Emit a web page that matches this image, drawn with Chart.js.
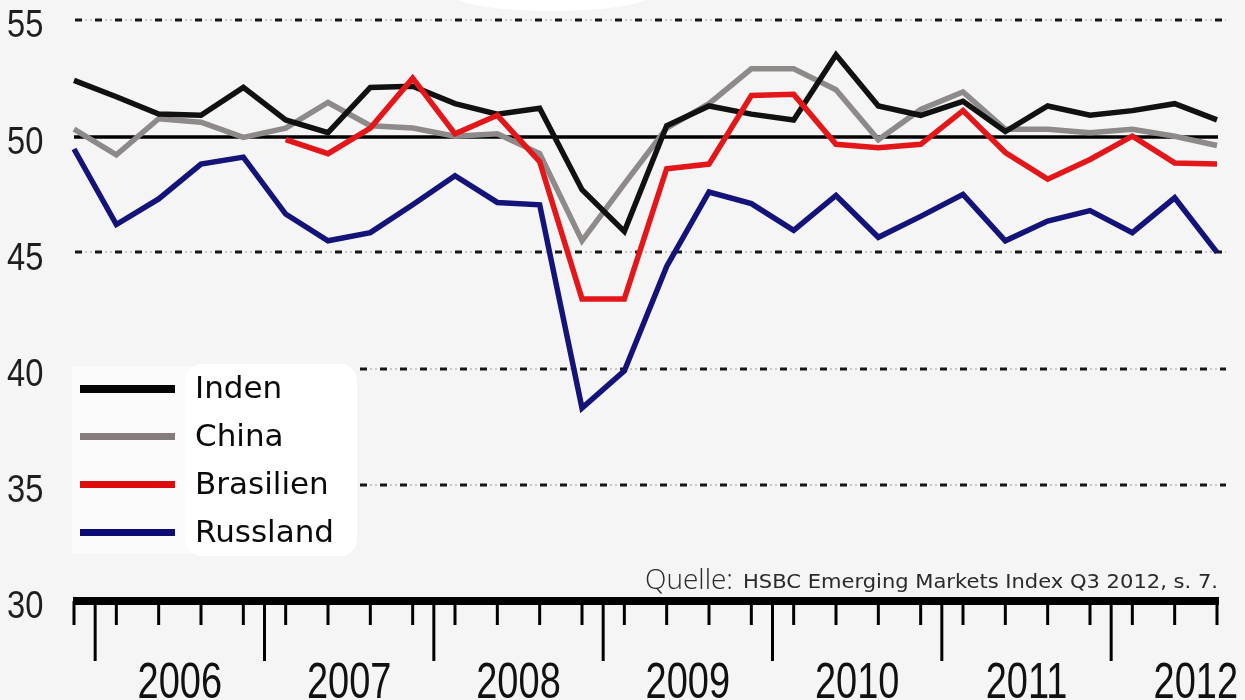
<!DOCTYPE html>
<html>
<head>
<meta charset="utf-8">
<script src="https://cdn.jsdelivr.net/npm/chart.js@4.4.1/dist/chart.umd.min.js"></script>
<style>
  html, body { margin: 0; padding: 0; background: #f5f5f5; }
  #wrap { width: 1245px; height: 700px; }
</style>
</head>
<body>
<div id="wrap"><canvas id="pmi" width="1245" height="700"></canvas></div>
<script>
// Quarterly PMI, 2005 Q4 .. 2012 Q3
const quarters = [
  '2005 Q4',
  '2006 Q1', '2006 Q2', '2006 Q3', '2006 Q4',
  '2007 Q1', '2007 Q2', '2007 Q3', '2007 Q4',
  '2008 Q1', '2008 Q2', '2008 Q3', '2008 Q4',
  '2009 Q1', '2009 Q2', '2009 Q3', '2009 Q4',
  '2010 Q1', '2010 Q2', '2010 Q3', '2010 Q4',
  '2011 Q1', '2011 Q2', '2011 Q3', '2011 Q4',
  '2012 Q1', '2012 Q2', '2012 Q3',
];
const years = ['2006', '2007', '2008', '2009', '2010', '2011', '2012'];
const yTicks = [30, 35, 40, 45, 50, 55];

const inden = [52.4, 51.7, 50.95, 50.9, 52.1, 50.7, 50.15, 52.1, 52.15, 51.4, 50.95, 51.2,
  47.7, 45.9, 50.45, 51.3, 50.95, 50.7, 53.5, 51.3, 50.9, 51.5, 50.2, 51.3, 50.9, 51.1, 51.4, 50.7];
const china = [50.3, 49.2, 50.75, 50.6, 49.95, 50.35, 51.45, 50.45, 50.35, 50.0, 50.1, 49.25,
  45.5, 47.95, 50.35, 51.4, 52.9, 52.9, 52.0, 49.85, 51.15, 51.9, 50.3, 50.3, 50.15, 50.3, 50.0, 49.6];
const brasilien = [null, null, null, null, null, 49.85, 49.25, 50.35, 52.5, 50.1, 50.9, 48.9,
  43.0, 43.0, 48.6, 48.8, 51.75, 51.8, 49.65, 49.5, 49.65, 51.1, 49.3, 48.15, 49.0, 50.0, 48.85, 48.8];
const russland = [49.45, 46.2, 47.3, 48.8, 49.1, 46.65, 45.5, 45.85, 47.05, 48.3, 47.15, 47.05,
  38.3, 39.9, 44.4, 47.6, 47.1, 45.95, 47.45, 45.65, 46.55, 47.5, 45.5, 46.35, 46.8, 45.85, 47.35, 45.0];

const SERIES = [
  { label: 'Inden',     data: inden,     color: '#111111', legend: '#050505', order: 2 },
  { label: 'China',     data: china,     color: '#8e8a89', legend: '#857d7b', order: 3 },
  { label: 'Brasilien', data: brasilien, color: '#e3161a', legend: '#dd0d0d', order: 1 },
  { label: 'Russland',  data: russland,  color: '#13137a', legend: '#0c0c72', order: 0 },
];

const SOURCE_LEAD = 'Quelle:';
const SOURCE_TEXT = 'HSBC Emerging Markets Index Q3 2012, s. 7.';

// condensed text helper (the original uses a narrow face)
function narrowText(ctx, text, x, y, sx, align) {
  ctx.save();
  ctx.translate(x, y);
  ctx.scale(sx, 1);
  ctx.textAlign = align;
  ctx.fillText(text, 0, 0);
  ctx.restore();
}

const decor = {
  id: 'decor',
  beforeDatasetsDraw(chart) {
    const { ctx, scales: { x, y } } = chart;
    const left = x.getPixelForValue(0);
    const right = x.getPixelForValue(quarters.length - 1);

    // white smudge at the top
    ctx.save();
    ctx.fillStyle = '#ffffff';
    ctx.beginPath();
    ctx.ellipse(552, -4, 96, 15, 0, 0, Math.PI * 2);
    ctx.fill();
    ctx.restore();

    // legend backdrop (behind the labels only)
    ctx.save();
    ctx.fillStyle = '#fbfbfb';
    ctx.fillRect(72, 366, 120, 188);
    ctx.fillStyle = '#ffffff';
    ctx.beginPath();
    ctx.roundRect(186, 364, 171, 192, 16);
    ctx.fill();
    ctx.restore();

    // grid lines
    yTicks.forEach(v => {
      const py = Math.round(y.getPixelForValue(v));
      if (v === 30) return;
      ctx.save();
      if (v === 50) {
        ctx.strokeStyle = '#000';
        ctx.lineWidth = 3.5;
        ctx.beginPath();
        ctx.moveTo(left, py + 1);
        ctx.lineTo(right + 1, py + 1);
        ctx.stroke();
      } else {
        const x0 = v <= 40 ? 360 : left + 1;
        ctx.strokeStyle = '#b9b9b9';
        ctx.lineWidth = 1.5;
        ctx.setLineDash([2, 3]);
        ctx.beginPath();
        ctx.moveTo(x0, py);
        ctx.lineTo(right + 9, py);
        ctx.stroke();
        ctx.strokeStyle = '#161616';
        ctx.lineWidth = 3;
        ctx.setLineDash([7, 13]);
        ctx.beginPath();
        ctx.moveTo(x0, py);
        ctx.lineTo(right + 9, py);
        ctx.stroke();
      }
      ctx.restore();
    });

    // y tick labels
    ctx.save();
    ctx.fillStyle = '#1e1e1e';
    ctx.font = "38px 'Liberation Sans', Arial, sans-serif";
    ctx.textBaseline = 'middle';
    yTicks.forEach(v => {
      narrowText(ctx, String(v), 7, y.getPixelForValue(v) + 7, 0.86, 'left');
    });
    ctx.restore();
  },
  afterDatasetsDraw(chart) {
    const { ctx, scales: { x, y } } = chart;
    const left = x.getPixelForValue(0);
    const right = x.getPixelForValue(quarters.length - 1);
    const axisY = y.getPixelForValue(30);

    // x axis bar
    ctx.save();
    ctx.fillStyle = '#000';
    ctx.fillRect(left - 1, axisY - 4, right - left + 3, 8);

    // quarter ticks and year boundary ticks
    ctx.strokeStyle = '#000';
    ctx.lineWidth = 3;
    quarters.forEach((q, i) => {
      const px = x.getPixelForValue(i);
      ctx.beginPath();
      ctx.moveTo(px, axisY);
      ctx.lineTo(px, axisY + 24);
      ctx.stroke();
      if (q.endsWith('Q4') && i < quarters.length - 1) {
        const bx = (px + x.getPixelForValue(i + 1)) / 2;
        ctx.beginPath();
        ctx.moveTo(bx, axisY);
        ctx.lineTo(bx, axisY + 60);
        ctx.stroke();
      }
    });

    // year labels centred on each year's span
    ctx.fillStyle = '#111';
    ctx.font = "50px 'Liberation Sans', Arial, sans-serif";
    ctx.textBaseline = 'alphabetic';
    years.forEach(yr => {
      const q2 = quarters.indexOf(yr + ' Q2');
      const cx = (x.getPixelForValue(q2) + x.getPixelForValue(q2 + 1)) / 2;
      narrowText(ctx, yr, cx, 698, 0.76, 'center');
    });

    // source line
    ctx.fillStyle = '#2a2a2a';
    ctx.textAlign = 'left';
    ctx.font = "300 28px 'Open Sans', sans-serif";
    ctx.fillText(SOURCE_LEAD, 645, 589);
    ctx.font = "19px 'DejaVu Sans', sans-serif";
    const w = ctx.measureText(SOURCE_TEXT).width;
    narrowText(ctx, SOURCE_TEXT, 743, 588, 475 / w, 'left');
    ctx.restore();

    // legend
    ctx.save();
    ctx.font = "31px 'DejaVu Sans', sans-serif";
    ctx.textBaseline = 'alphabetic';
    SERIES.forEach((s, i) => {
      const ly = 389 + i * 48;
      ctx.fillStyle = s.legend;
      ctx.fillRect(80, ly - 4, 95, i === 0 ? 8 : 7);
      ctx.fillStyle = '#0a0a0a';
      ctx.fillText(s.label, 195, ly + 9);
    });
    ctx.restore();
  },
};

new Chart(document.getElementById('pmi'), {
  type: 'line',
  data: {
    labels: quarters,
    datasets: SERIES.map(s => ({
      label: s.label,
      data: s.data,
      borderColor: s.color,
      backgroundColor: s.color,
      borderWidth: 5.5,
      pointRadius: 0,
      tension: 0,
      spanGaps: false,
      order: s.order,
    })),
  },
  options: {
    responsive: false,
    animation: false,
    devicePixelRatio: 1,
    layout: { padding: { left: 74, right: 28, top: 20, bottom: 99 } },
    plugins: { legend: { display: false }, tooltip: { enabled: false } },
    scales: {
      x: { type: 'category', display: false, offset: false },
      y: { min: 30, max: 55, display: false },
    },
  },
  plugins: [decor],
});
</script>
</body>
</html>
